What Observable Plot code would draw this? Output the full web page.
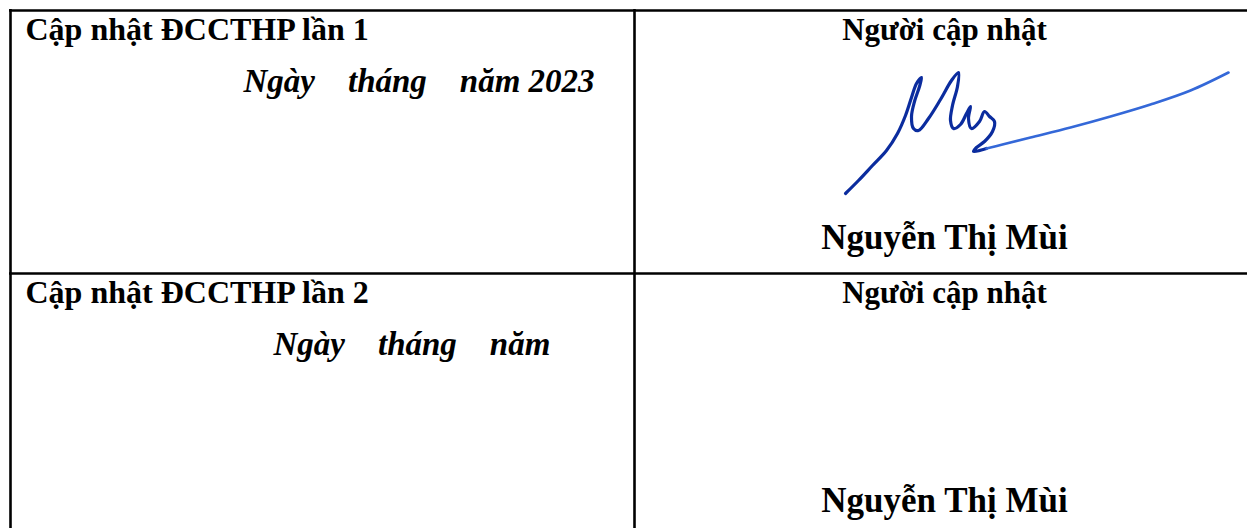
<!DOCTYPE html>
<html>
<head>
<meta charset="utf-8">
<script src="https://cdn.jsdelivr.net/npm/d3@7"></script>
<script src="https://cdn.jsdelivr.net/npm/@observablehq/plot@0.6"></script>
<style>
  html, body { margin: 0; padding: 0; background: #fff; }
  svg text { white-space: pre; }
</style>
</head>
<body>
<div id="chart"></div>
<script>
// ---- content ----
const rowTitles = ["Cập nhật ĐCCTHP lần 1", "Cập nhật ĐCCTHP lần 2"];
const dateLines = ["Ngày    tháng    năm 2023", "Ngày    tháng    năm"];
const signerLabels = ["Người cập nhật", "Người cập nhật"];
const signerNames = ["Nguyễn Thị Mùi", "Nguyễn Thị Mùi"];
// signature stroke (row 1)
const sigBody = [
  [845,193],[858,180],[872,165],[886,150],[897,133],[905,115],[911,97],[916,83],[921,77],
  [919,86],[914,101],[911,116],[913,128],[918,130],[928,118],[940,99],[951,80],[958,72],
  [957,86],[952,105],[950,120],[953,128],[960,124],[966,113],[970,106],[968,118],[971,128],
  [979,121],[984,111],[989,116],[994,121],[992,131],[984,141],[976,147],[973,151],[986,148]
];
const sigTail = [
  [986,148],[1002,144],[1030,137],[1070,127],[1110,116],[1150,104],[1190,90],[1228,72]
];

// ---- layout ----
const W = 1247, H = 528;
const L = {left: 10, right: 1247, top: 10, mid: 273, bottom: 540, divider: 634,
           titleX: 25, dateX: [243, 273], rightCenter: 944,
           rowTop: [10, 273]};

const rows = rowTitles.map((t, i) => ({
  i, title: t, date: dateLines[i], label: signerLabels[i], name: signerNames[i]
}));

const serif = "'Liberation Serif', 'Times New Roman', 'DejaVu Serif', serif";

const plot = Plot.plot({
  width: W, height: H,
  margin: 0,
  x: {domain: [0, W], range: [0, W], axis: null},
  y: {domain: [0, H], range: [0, H], axis: null},
  style: {background: "#fff", overflow: "hidden"},
  marks: [
    // grid lines of the table
    Plot.ruleY([L.top, L.mid], {x1: L.left - 1, x2: L.right, stroke: "#000", strokeWidth: 2.6}),
    Plot.ruleX([L.left, L.divider], {y1: L.top - 1, y2: L.bottom, stroke: "#000", strokeWidth: 2.6}),
    // left column: titles
    Plot.text(rows, {x: L.titleX, y: d => L.rowTop[d.i] + 29, text: "title", textAnchor: "start",
      fontFamily: serif, fontWeight: "bold", fontSize: 32, fill: "#000", lineAnchor: "bottom"}),
    // left column: date lines
    Plot.text(rows, {x: d => L.dateX[d.i], y: d => L.rowTop[d.i] + 81, text: "date", textAnchor: "start",
      fontFamily: serif, fontWeight: "bold", fontStyle: "italic", fontSize: 33, fill: "#000", lineAnchor: "bottom"}),
    // right column: label
    Plot.text(rows, {x: L.rightCenter, y: d => L.rowTop[d.i] + 29, text: "label", textAnchor: "middle",
      fontFamily: serif, fontWeight: "bold", fontSize: 31, fill: "#000", lineAnchor: "bottom"}),
    // right column: name
    Plot.text(rows, {x: L.rightCenter, y: d => L.rowTop[d.i] + 238, text: "name", textAnchor: "middle",
      fontFamily: serif, fontWeight: "bold", fontSize: 35, fill: "#000", lineAnchor: "bottom"}),
    // signature
    Plot.line(sigBody, {x: d => d[0], y: d => d[1], curve: "catmull-rom",
      stroke: "#0b2c9e", strokeWidth: 3.2, strokeLinecap: "round", strokeLinejoin: "round"}),
    Plot.line(sigTail, {x: d => d[0], y: d => d[1], curve: "catmull-rom",
      stroke: "#3468d8", strokeWidth: 2.6, strokeLinecap: "round", strokeLinejoin: "round"})
  ]
});
document.getElementById("chart").appendChild(plot);
</script>
</body>
</html>
